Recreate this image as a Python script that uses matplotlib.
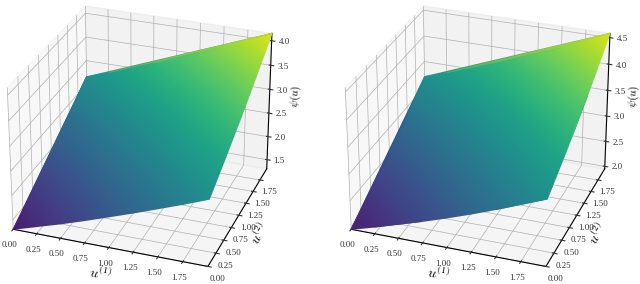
import numpy as np
import matplotlib
matplotlib.use('Agg')
import matplotlib.pyplot as plt
from matplotlib.collections import TriMesh
from matplotlib.tri import Triangulation
from mpl_toolkits.mplot3d import proj3d

plt.rcParams['font.family'] = ['Liberation Serif', 'DejaVu Serif']
plt.rcParams['mathtext.fontset'] = 'cm'

grid_u = [0.0, 0.25, 0.5, 0.75, 1.0, 1.25, 1.5, 1.75, 2.0]
tick_u = [0.0, 0.25, 0.5, 0.75, 1.0, 1.25, 1.5, 1.75]

psi_left = [
    [1.30, 1.45, 1.60, 1.76, 1.93, 2.10, 2.28, 2.46, 2.65],
    [1.45, 1.60, 1.75, 1.91, 2.08, 2.26, 2.44, 2.62, 2.82],
    [1.60, 1.75, 1.91, 2.07, 2.24, 2.42, 2.60, 2.79, 2.99],
    [1.76, 1.91, 2.07, 2.24, 2.41, 2.59, 2.78, 2.97, 3.17],
    [1.93, 2.08, 2.24, 2.41, 2.59, 2.77, 2.96, 3.15, 3.35],
    [2.10, 2.26, 2.42, 2.59, 2.77, 2.95, 3.14, 3.34, 3.54],
    [2.28, 2.44, 2.60, 2.78, 2.96, 3.14, 3.33, 3.53, 3.74],
    [2.46, 2.62, 2.79, 2.97, 3.15, 3.34, 3.53, 3.74, 3.94],
    [2.65, 2.82, 2.99, 3.17, 3.35, 3.54, 3.74, 3.94, 4.15],
]
psi_right = [
    [1.95, 2.08, 2.22, 2.36, 2.51, 2.67, 2.84, 3.02, 3.20],
    [2.08, 2.21, 2.35, 2.50, 2.65, 2.81, 2.98, 3.16, 3.35],
    [2.22, 2.35, 2.49, 2.64, 2.80, 2.96, 3.13, 3.31, 3.50],
    [2.36, 2.50, 2.64, 2.79, 2.95, 3.11, 3.29, 3.47, 3.66],
    [2.51, 2.65, 2.80, 2.95, 3.11, 3.28, 3.45, 3.64, 3.83],
    [2.67, 2.81, 2.96, 3.11, 3.28, 3.45, 3.63, 3.81, 4.00],
    [2.84, 2.98, 3.13, 3.29, 3.45, 3.63, 3.81, 3.99, 4.19],
    [3.02, 3.16, 3.31, 3.47, 3.64, 3.81, 3.99, 4.18, 4.38],
    [3.20, 3.35, 3.50, 3.66, 3.83, 4.00, 4.19, 4.38, 4.58],
]
z_ticks_left = [1.5, 2.0, 2.5, 3.0, 3.5, 4.0]
z_ticks_right = [2.0, 2.5, 3.0, 3.5, 4.0, 4.5]

W, H = 640, 284
fig = plt.figure(figsize=(W / 100, H / 100), dpi=100)


def panel(rect, psi, zticks):
    ax = fig.add_axes(rect, projection='3d')
    ax.patch.set_alpha(0)
    ax.set_box_aspect((4, 4, 3.1))
    U1, U2 = np.meshgrid(grid_u, grid_u)
    Z = np.array(psi)
    ax.view_init(elev=28, azim=-70.3)
    ax.set_xlim(0, 2)
    ax.set_ylim(0, 2)
    ax.set_zlim(Z.min(), Z.max())
    ax.set_xticks(tick_u)
    ax.set_yticks(tick_u)
    ax.set_zticks(zticks)
    ax.set_xticklabels([f'{t:.2f}' for t in tick_u])
    ax.set_yticklabels([f'{t:.2f}' for t in tick_u])
    ax.set_zticklabels([f'{t:.1f}' for t in zticks])
    ax.tick_params(labelsize=6.5, pad=-2, length=2, colors='#333333')
    ax.set_xlabel(r'$u^{(1)}$', fontsize=10, labelpad=-8)
    ax.set_ylabel(r'$u^{(2)}$', fontsize=10, labelpad=-8)
    ax.set_zlabel(r'$\psi(u)$', fontsize=8, labelpad=-8)
    for a in (ax.xaxis, ax.yaxis, ax.zaxis):
        a._axinfo['grid']['linewidth'] = 0.5
    # surface from the read values, colour blended by the renderer between them
    px, py, _ = proj3d.proj_transform(U1.ravel(), U2.ravel(), Z.ravel(), ax.get_proj())
    mesh = TriMesh(Triangulation(px, py))
    mesh.set_array(Z.ravel())
    mesh.set_cmap('viridis')
    mesh.set_clim(Z.min() - 0.25, Z.max() + 0.15)
    mesh.do_3d_projection = lambda: 0
    ax.add_collection(mesh, autolim=False)
    return ax


panel([-0.0294, -0.032, 0.495, 1.116], psi_left, z_ticks_left)
panel([-0.0294 + 338 / W, -0.032, 0.495, 1.116], psi_right, z_ticks_right)
fig.savefig('out.png', dpi=100)
